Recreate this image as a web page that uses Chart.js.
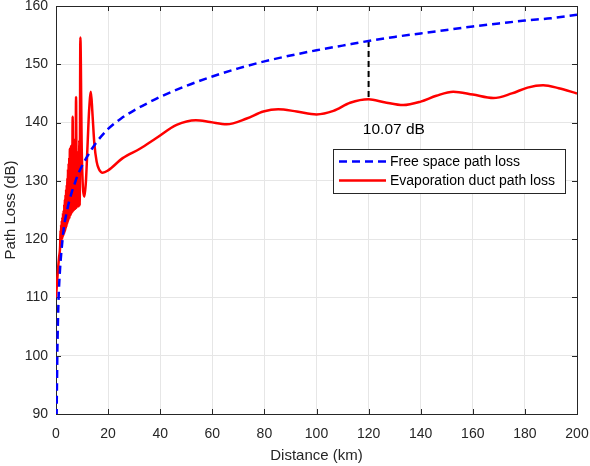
<!DOCTYPE html>
<html>
<head>
<meta charset="utf-8">
<script src="https://cdn.jsdelivr.net/npm/chart.js@4.4.1/dist/chart.umd.min.js"></script>
<style>
  body { margin: 0; background: #fff; }
  canvas { display: block; }
</style>
</head>
<body>
<canvas id="pathloss" width="590" height="466"></canvas>
<script>
// free space path loss
const fsplKm = [0.25, 0.3, 0.4, 0.5, 0.7, 1, 1.5, 2, 3, 4, 5, 6, 7, 8, 10, 12, 15,
  20, 25, 30, 35, 40, 50, 60, 70, 80, 90, 100, 110, 120, 130, 140, 150, 160, 170, 180, 190, 200];
const fsplDb = [89.5, 92.5, 96, 100, 105, 110, 114.5, 117.5, 121.9, 124.4, 126.4, 128, 129.3, 130.6, 132.6, 134.2, 136.3,
  138.9, 140.7, 142.1, 143.3, 144.4, 146.3, 147.9, 149.3, 150.5, 151.5, 152.4, 153.2, 154.0, 154.7, 155.3, 155.9, 156.5, 157, 157.5, 157.9, 158.5];

// evaporation duct path loss (red curve), dense ripple below 10 km
const ductKm = [0, 0.4, 0.8, 1.2, 1.6, 1.72, 1.84, 1.96, 2.08, 2.20, 2.32, 2.44, 2.56, 2.68, 2.80, 2.92,
  3.04, 3.16, 3.28, 3.40, 3.52, 3.64, 3.76, 3.88, 4.00, 4.12, 4.24, 4.36, 4.48, 4.60, 4.72, 4.84,
  4.96, 5.08, 5.20, 5.32, 5.44, 5.56, 5.68, 5.80, 5.92, 6.04, 6.16, 6.40, 6.58, 6.72, 6.86, 7.00,
  7.15, 7.30, 7.45, 7.70, 7.95, 8.15, 8.35, 8.55, 8.75, 8.95, 9.1, 9.35, 9.9, 10.9, 11.5, 12.1,
  12.7, 13.4, 14.0, 14.7, 15.6, 16.5, 17.3, 17.9, 20, 25.6, 32.2, 38.4, 46.3, 53.7, 59.1, 65.5,
  73.2, 79.6, 85.3, 92.4, 100, 106.5, 112.9, 120, 126, 133.3, 140, 146, 152.5, 160, 167.9, 175,
  181, 187, 193, 200];
const ductDb = [110, 112.5, 115, 117, 119.0, 121.5, 119.3, 122.5, 119.6, 123.2, 119.9, 123.8, 120.2, 124.5, 120.5, 125.0,
  120.8, 126.0, 121.1, 126.8, 121.4, 127.6, 121.8, 128.5, 122.1, 129.3, 122.5, 130.5, 122.8, 132.0, 123.1, 133.0,
  123.4, 134.0, 123.7, 135.5, 124.0, 134.5, 124.2, 136.0, 124.4, 134.0, 124.6, 141.0, 124.8, 135.0, 125.0, 137.0,
  125.1, 134.5, 125.2, 144.4, 125.4, 135.0, 125.6, 131.0, 125.6, 137.0, 125.8, 154.6, 135, 127.3, 130, 136,
  142, 145.3, 141.5, 136.5, 133.3, 132, 131.5, 131.4, 131.8, 133.9, 135.5, 137.3, 139.6, 140.4, 140.1, 139.7,
  140.7, 141.9, 142.3, 141.9, 141.4, 142.0, 143.4, 144.0, 143.5, 143.0, 143.6, 144.6, 145.3, 144.8, 144.2, 145.0,
  146.0, 146.4, 145.9, 145.0];

// gap marker at 120 km
const gapKm = [120, 120];
const gapDb = [154.0, 144.0];
const gapText = '10.07 dB';

const xTicks = [0, 20, 40, 60, 80, 100, 120, 140, 160, 180, 200];
const yTicks = [90, 100, 110, 120, 130, 140, 150, 160];

const ink = '#262626';
const pts = (xs, ys) => xs.map((x, i) => ({ x: x, y: ys[i] }));

// MATLAB style box with inward ticks
const boxPlugin = {
  id: 'box',
  beforeDatasetsDraw(chart) {
    const { ctx, chartArea: a, scales } = chart;
    ctx.save();
    ctx.strokeStyle = ink;
    ctx.lineWidth = 1;
    ctx.beginPath();
    xTicks.forEach(t => {
      const px = Math.round(scales.x.getPixelForValue(t)) + 0.5;
      ctx.moveTo(px, a.bottom); ctx.lineTo(px, a.bottom - 5);
      ctx.moveTo(px, a.top); ctx.lineTo(px, a.top + 5);
    });
    yTicks.forEach(t => {
      const py = Math.round(scales.y.getPixelForValue(t)) + 0.5;
      ctx.moveTo(a.left, py); ctx.lineTo(a.left + 5, py);
      ctx.moveTo(a.right, py); ctx.lineTo(a.right - 5, py);
    });
    ctx.stroke();
    ctx.strokeRect(Math.round(a.left) + 0.5, Math.round(a.top) + 0.5,
      Math.round(a.right - a.left), Math.round(a.bottom - a.top));
    ctx.restore();
  },
  // gap label and legend on top
  afterDatasetsDraw(chart) {
    const { ctx, chartArea: a, scales } = chart;
    ctx.save();
    ctx.fillStyle = '#000';
    ctx.font = '15.5px "Liberation Sans", Arial, sans-serif';
    ctx.textAlign = 'left';
    ctx.textBaseline = 'middle';
    ctx.fillText(gapText, scales.x.getPixelForValue(117.8), scales.y.getPixelForValue(138.8));

    const lx = a.right - 244, ly = a.top + 143, lw = 232, lh = 44;
    ctx.fillStyle = '#fff';
    ctx.fillRect(lx, ly, lw, lh);
    ctx.strokeStyle = ink;
    ctx.lineWidth = 1;
    ctx.strokeRect(lx + 0.5, ly + 0.5, lw, lh);
    ctx.font = '14px "Liberation Sans", Arial, sans-serif';
    chart.data.datasets.slice(0, 2).forEach((ds, i) => {
      const y = ly + 12.5 + i * 19;
      ctx.strokeStyle = ds.borderColor;
      ctx.lineWidth = ds.borderWidth;
      ctx.setLineDash(ds.borderDash || []);
      ctx.beginPath();
      ctx.moveTo(lx + 6, y); ctx.lineTo(lx + 53, y);
      ctx.stroke();
      ctx.setLineDash([]);
      ctx.fillStyle = '#000';
      ctx.fillText(ds.label, lx + 57, y + 1);
    });
    ctx.restore();
  }
};

new Chart(document.getElementById('pathloss'), {
  type: 'line',
  data: {
    datasets: [{
      label: 'Free space path loss',
      data: pts(fsplKm, fsplDb),
      borderColor: '#0000ff',
      borderWidth: 2.5,
      borderDash: [8, 5],
      cubicInterpolationMode: 'monotone',
      pointRadius: 0
    }, {
      label: 'Evaporation duct path loss',
      data: pts(ductKm, ductDb),
      borderColor: '#ff0000',
      borderWidth: 2.5,
      cubicInterpolationMode: 'monotone',
      pointRadius: 0
    }, {
      label: 'gap',
      data: pts(gapKm, gapDb),
      borderColor: '#000',
      borderWidth: 2,
      borderDash: [6, 4],
      pointRadius: 0
    }]
  },
  options: {
    responsive: false,
    animation: false,
    devicePixelRatio: 1,
    layout: { padding: { top: 6, right: 13, left: 0, bottom: 0 } },
    plugins: { legend: { display: false }, tooltip: { enabled: false } },
    scales: {
      x: {
        type: 'linear',
        min: 0, max: 200,
        afterBuildTicks: s => { s.ticks = xTicks.map(v => ({ value: v })); },
        afterFit: s => { s.height = 52; s.paddingLeft = 0; s.paddingRight = 0; },
        grid: { color: '#e6e6e6', drawTicks: false },
        border: { display: false },
        ticks: { color: ink, padding: 12, maxRotation: 0, font: { family: '"Liberation Sans", Arial', size: 14 } },
        title: { display: true, text: 'Distance (km)', color: ink, padding: { top: 0, bottom: 1 },
          font: { family: '"Liberation Sans", Arial', size: 15 } }
      },
      y: {
        min: 90, max: 160,
        afterBuildTicks: s => { s.ticks = yTicks.map(v => ({ value: v })); },
        afterFit: s => { s.width = 56; s.paddingTop = 0; s.paddingBottom = 0; },
        grid: { color: '#e6e6e6', drawTicks: false },
        border: { display: false },
        ticks: { color: ink, padding: 8, font: { family: '"Liberation Sans", Arial', size: 14 } },
        title: { display: true, text: 'Path Loss (dB)', color: ink, padding: { top: 2, bottom: 0 },
          font: { family: '"Liberation Sans", Arial', size: 15 } }
      }
    }
  },
  plugins: [boxPlugin]
});
</script>
</body>
</html>
